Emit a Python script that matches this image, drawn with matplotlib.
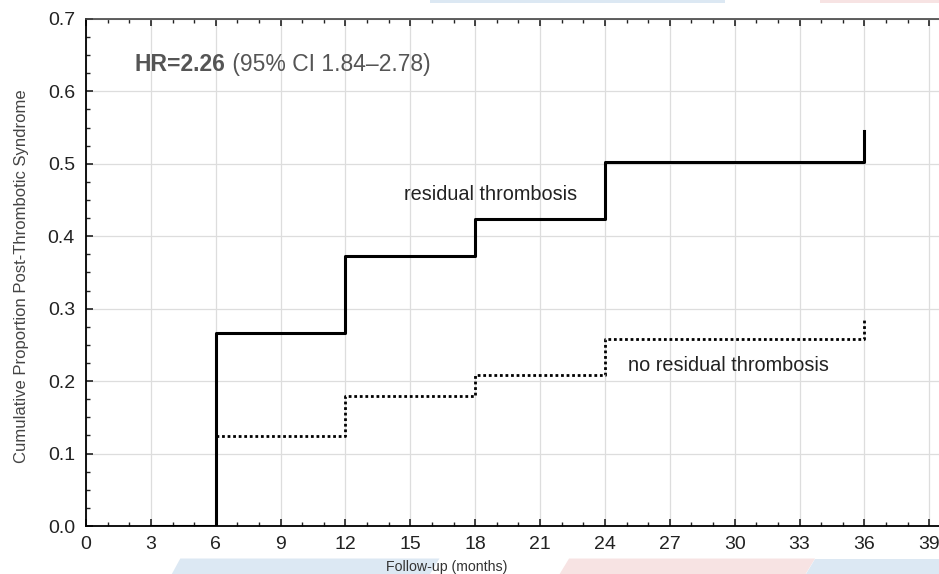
import matplotlib
matplotlib.use("Agg")
import matplotlib.pyplot as plt
from matplotlib.ticker import MultipleLocator
from matplotlib.patches import Polygon

plt.rcParams['font.family'] = ['Liberation Sans', 'DejaVu Sans']

# Data
residual_t = [3, 6, 12, 18, 24, 36]
residual_p = [0.0, 0.267, 0.373, 0.424, 0.503, 0.545]
noresid_t = [6, 12, 18, 24, 36]
noresid_p = [0.124, 0.179, 0.209, 0.258, 0.285]
x_ticks = [0, 3, 6, 9, 12, 15, 18, 21, 24, 27, 30, 33, 36, 39]
y_ticks = [0.0, 0.1, 0.2, 0.3, 0.4, 0.5, 0.6, 0.7]

fig = plt.figure(figsize=(9.39, 5.74), dpi=100)

# faint background decorations
for pts, col in [
    ([(0.183, 0.0), (0.458, 0.0), (0.468, 0.027), (0.192, 0.027)], '#dce8f3'),
    ([(0.596, 0.0), (0.858, 0.0), (0.868, 0.027), (0.606, 0.027)], '#f7e3e3'),
    ([(0.858, 0.0), (1.0, 0.0), (1.0, 0.027), (0.868, 0.027)], '#dce8f3'),
    ([(0.458, 0.995), (0.772, 0.995), (0.772, 1.0), (0.458, 1.0)], '#dce8f3'),
    ([(0.873, 0.995), (1.0, 0.995), (1.0, 1.0), (0.873, 1.0)], '#f7e3e3'),
]:
    fig.patches.append(Polygon(pts, closed=True, transform=fig.transFigure,
                               facecolor=col, edgecolor='none', zorder=0))

ax = fig.add_axes([0.0916, 0.0836, 0.9084, 0.8834])
ax.set_facecolor('none')

ax.step(residual_t, residual_p, where='post', color='black', lw=2.2, zorder=3)
ax.step(noresid_t, noresid_p, where='post', color='black', lw=2.0,
        linestyle=(0, (1, 1)), zorder=3)

ax.set_xlim(0, 39.45)
ax.set_ylim(0, 0.7)
ax.set_xticks(x_ticks)
ax.set_yticks(y_ticks)
ax.set_yticklabels([f"{v:.1f}" for v in y_ticks])
ax.xaxis.set_minor_locator(MultipleLocator(1))
ax.yaxis.set_minor_locator(MultipleLocator(0.025))
ax.tick_params(axis='both', which='both', direction='in', top=True, right=False,
               labelsize=14, colors='#222222')
ax.tick_params(which='major', length=5, width=1.2)
ax.tick_params(which='minor', length=3, width=1)
ax.tick_params(axis='x', pad=7)
ax.tick_params(axis='y', pad=8)
ax.grid(True, which='major', color='#dddddd', lw=0.9)
ax.set_axisbelow(True)

for s in ['left', 'bottom']:
    ax.spines[s].set_color('black')
    ax.spines[s].set_linewidth(1.3)
ax.spines['top'].set_color('#444444')
ax.spines['top'].set_linewidth(1.2)
ax.spines['right'].set_visible(False)

fig.text(22 / 939, 1 - 276 / 574, 'Cumulative Proportion Post-Thrombotic Syndrome',
         fontsize=12, color='#444444', rotation=90, ha='center', va='center')
fig.text(447 / 939, 1 - 567 / 574, 'Follow-up (months)', fontsize=10.2,
         color='#333333', ha='center', va='center')

t1 = ax.text(2.25, 0.628, 'HR=2.26', fontsize=16.5, fontweight='bold',
             color='#555555', ha='left', va='baseline')
ax.annotate(' (95% CI 1.84–2.78)', xy=(1, 0), xycoords=t1, fontsize=16.5,
            color='#555555', ha='left', va='bottom')

ax.text(14.7, 0.458, 'residual thrombosis', fontsize=14.3, color='#222222',
        ha='left', va='center')
ax.text(25.05, 0.222, 'no residual thrombosis', fontsize=14.3, color='#222222',
        ha='left', va='center')

fig.savefig('out.png', dpi=100)
